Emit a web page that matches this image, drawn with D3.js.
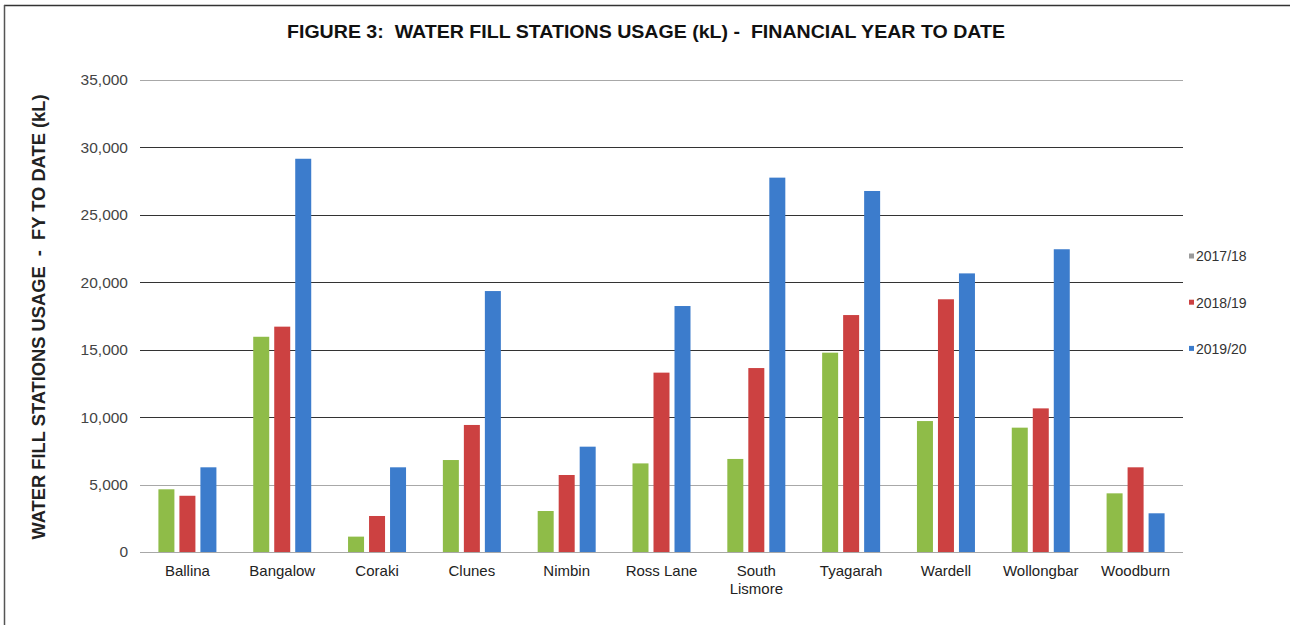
<!DOCTYPE html>
<html>
<head>
<meta charset="utf-8">
<script src="https://cdn.jsdelivr.net/npm/d3@7"></script>
<style>
  html, body { margin: 0; padding: 0; background: #fff; }
  svg { display: block; font-family: Arial, "Liberation Sans", sans-serif; }
</style>
</head>
<body>
<svg id="chart" width="1290" height="625"></svg>
<script>
// Water fill station usage (kL), financial year to date
const stations = ["Ballina", "Bangalow", "Coraki", "Clunes", "Nimbin", "Ross Lane",
                  "South Lismore", "Tyagarah", "Wardell", "Wollongbar", "Woodburn"];
const seriesNames = ["2017/18", "2018/19", "2019/20"];
const fy1718 = [4650, 15960, 1140, 6820, 3040, 6570, 6900, 14780, 9710, 9220, 4350];
const fy1819 = [4170, 16710, 2670, 9420, 5710, 13300, 13640, 17570, 18740, 10650, 6280];
const fy1920 = [6280, 29160, 6280, 19350, 7810, 18240, 27760, 26770, 20660, 22450, 2870];
const yTicks = [0, 5000, 10000, 15000, 20000, 25000, 30000, 35000];
const colors = ["#8fbc48", "#cc4141", "#3c7ccc"];

const values = [fy1718, fy1819, fy1920];
const rows = stations.map((s, i) => ({ station: s, vals: values.map(v => v[i]) }));

const svg = d3.select("#chart");
const W = 1290, H = 625;
const m = { left: 140, right: 1183, top: 80, bottom: 552 };

// frame
svg.append("line").attr("x1", 4).attr("x2", W).attr("y1", 5.5).attr("y2", 5.5)
  .attr("stroke", "#333").attr("stroke-width", 1.5);
svg.append("line").attr("x1", 4.5).attr("x2", 4.5).attr("y1", 5).attr("y2", H)
  .attr("stroke", "#555").attr("stroke-width", 1.5);

const x = d3.scaleBand().domain(stations).range([m.left, m.right]);
const y = d3.scaleLinear().domain([0, 35000]).range([m.bottom, m.top]);
const barW = 16, barStep = 21;
const xInner = d3.scaleBand().domain(seriesNames)
  .range([0, barStep * 3]).paddingInner(0);

// gridlines: top, 5,000 and baseline are lighter
const light = d => d === 35000 || d === 5000 || d === 0;
svg.append("g").selectAll("line").data(yTicks).join("line")
  .attr("x1", m.left).attr("x2", m.right)
  .attr("y1", d => Math.round(y(d)) + 0.5).attr("y2", d => Math.round(y(d)) + 0.5)
  .attr("stroke", d => light(d) ? "#a8a8a8" : "#333")
  .attr("stroke-width", 1.2);

// y axis labels
const yAxis = d3.axisLeft(y).tickValues(yTicks).tickSize(0).tickPadding(12)
  .tickFormat(d3.format(","));
const yg = svg.append("g").attr("transform", `translate(${m.left},0)`).call(yAxis);
yg.select(".domain").remove();
yg.selectAll("text").attr("font-size", 15.5).attr("fill", "#444")
  .attr("font-family", "Arial, 'Liberation Sans', sans-serif");

// bars
const groups = svg.append("g").selectAll("g").data(rows).join("g")
  .attr("transform", d => `translate(${x(d.station) + (x.bandwidth() - (barStep * 2 + barW)) / 2},0)`);
groups.selectAll("rect").data(d => d.vals.map((v, k) => ({ v, k }))).join("rect")
  .attr("x", d => xInner(seriesNames[d.k]))
  .attr("width", barW)
  .attr("y", d => y(d.v))
  .attr("height", d => y(0) - y(d.v))
  .attr("fill", d => colors[d.k]);

// x axis labels
const xAxis = d3.axisBottom(x).tickSize(0).tickPadding(13);
const xg = svg.append("g").attr("transform", `translate(0,${m.bottom})`).call(xAxis);
xg.select(".domain").remove();
xg.selectAll("text").attr("font-size", 15).attr("fill", "#222")
  .attr("font-family", "Arial, 'Liberation Sans', sans-serif")
  .each(function (d) {
    if (d === "South Lismore") {
      const t = d3.select(this);
      t.text(null);
      t.append("tspan").attr("x", 0).attr("dy", "0.71em").text("South");
      t.append("tspan").attr("x", 0).attr("dy", "1.2em").text("Lismore");
      t.attr("dy", null);
    }
  });

// title
svg.append("text").attr("x", 646).attr("y", 38).attr("text-anchor", "middle")
  .attr("font-size", 19).attr("font-weight", "bold").attr("fill", "#111")
  .attr("textLength", 718).attr("lengthAdjust", "spacingAndGlyphs")
  .style("white-space", "pre")
  .text("FIGURE 3:  WATER FILL STATIONS USAGE (kL) -  FINANCIAL YEAR TO DATE");

// y title
svg.append("text").attr("transform", "translate(45,317) rotate(-90)")
  .attr("text-anchor", "middle").attr("font-size", 17.5).attr("font-weight", "bold")
  .attr("fill", "#222").style("white-space", "pre")
  .attr("textLength", 445).attr("lengthAdjust", "spacingAndGlyphs")
  .text("WATER FILL STATIONS USAGE  -  FY TO DATE (kL)");

// legend
const legend = svg.append("g").selectAll("g").data(seriesNames).join("g")
  .attr("transform", (d, i) => `translate(1192,${256.5 + i * 46.2})`);
legend.append("rect").attr("x", -3).attr("y", -3).attr("width", 5).attr("height", 5)
  .attr("fill", (d, i) => i === 0 ? "#9a9a9a" : colors[i]);
legend.append("text").attr("x", 4).attr("y", 0).attr("dy", "0.35em")
  .attr("font-size", 14).attr("fill", "#333").text(d => d);
</script>
</body>
</html>
